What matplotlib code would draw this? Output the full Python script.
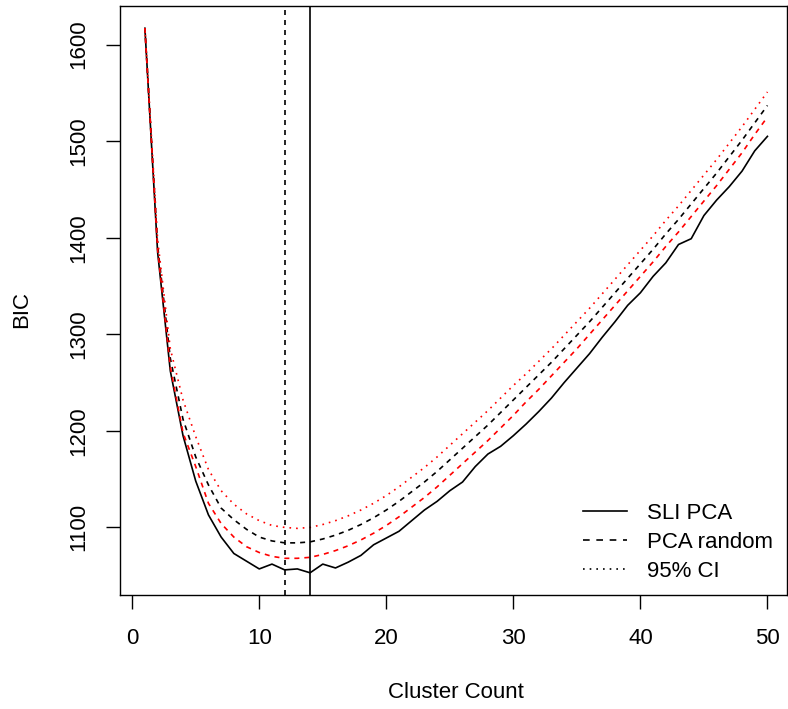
import numpy as np
import matplotlib
matplotlib.use("Agg")
import matplotlib.pyplot as plt
from matplotlib.lines import Line2D

# datos
cluster_count = list(range(1, 51))

sli_pca = [1617, 1385, 1262, 1195, 1148, 1113, 1090, 1073, 1065, 1057,
           1062, 1056, 1057, 1053, 1062, 1058, 1064, 1071, 1082, 1089,
           1096, 1107, 1118, 1127, 1138, 1147, 1163, 1176, 1184, 1195,
           1207, 1220, 1234, 1250, 1265, 1280, 1297, 1313, 1330, 1343,
           1360, 1374, 1393, 1399, 1423, 1439, 1453, 1469, 1490, 1505]

pca_random = [1617, 1392, 1275, 1212, 1173, 1144, 1120, 1108, 1098, 1090,
              1086, 1084, 1084, 1085, 1088, 1092, 1097, 1103, 1110, 1118,
              1127, 1137, 1147, 1158, 1170, 1182, 1194, 1206, 1219, 1232,
              1245, 1258, 1271, 1285, 1299, 1313, 1328, 1343, 1358, 1373,
              1388, 1404, 1419, 1435, 1451, 1467, 1484, 1501, 1519, 1537]

ci_lower = [1617, 1388, 1266, 1198, 1163, 1125, 1104, 1090, 1080, 1074,
            1070, 1068, 1068, 1069, 1072, 1076, 1081, 1087, 1094, 1102,
            1111, 1121, 1131, 1142, 1154, 1166, 1178, 1190, 1203, 1216,
            1230, 1243, 1257, 1271, 1285, 1300, 1315, 1330, 1345, 1360,
            1375, 1391, 1406, 1422, 1438, 1454, 1471, 1488, 1507, 1525]

ci_upper = [1617, 1398, 1285, 1232, 1194, 1160, 1138, 1124, 1114, 1107,
            1102, 1100, 1099, 1100, 1103, 1107, 1112, 1118, 1125, 1133,
            1142, 1152, 1162, 1173, 1185, 1197, 1209, 1221, 1234, 1247,
            1259, 1272, 1285, 1299, 1313, 1327, 1342, 1357, 1372, 1387,
            1402, 1418, 1433, 1449, 1465, 1481, 1498, 1515, 1533, 1551]

legend_labels = ["SLI PCA", "PCA random", "95% CI"]

plt.rcParams['font.family'] = ['Liberation Sans', 'DejaVu Sans']
plt.rcParams['font.size'] = 16

dashed = (0, (3, 3))
dotted = (0, (1, 3))
lw = 1.2

fig = plt.figure(figsize=(7.88, 7.09), dpi=100)
ax = fig.add_axes([119.5 / 788, 1 - 595 / 709, 667 / 788, 589 / 709])

ax.plot(cluster_count, sli_pca, color="black", lw=lw)
ax.plot(cluster_count, pca_random, color="black", lw=lw, linestyle=dashed)
ax.plot(cluster_count, ci_lower, color="red", lw=lw, linestyle=dashed)
ax.plot(cluster_count, ci_upper, color="red", lw=lw, linestyle=dotted)

# lineas verticales en el minimo de cada curva
ax.axvline(cluster_count[int(np.argmin(pca_random))], color="black", lw=lw, linestyle=dashed)
ax.axvline(cluster_count[int(np.argmin(sli_pca))], color="black", lw=lw)

ax.set_xlim(-1.0, 51.5)
ax.set_ylim(1030, 1640)
ax.set_xticks([0, 10, 20, 30, 40, 50])
ax.set_yticks([1100, 1200, 1300, 1400, 1500, 1600])
ax.tick_params(axis="both", direction="out", length=10, width=1, labelsize=16)
ax.tick_params(axis="x", pad=14)
ax.tick_params(axis="y", pad=12)
for lab in ax.get_yticklabels():
    lab.set_rotation(90)
    lab.set_va("center")
for sp in ax.spines.values():
    sp.set_linewidth(1)

fig.text(456 / 788, 1 - 692 / 709, "Cluster Count", ha="center", va="center", fontsize=16)
fig.text(22 / 788, 1 - 310 / 709, "BIC", ha="center", va="center", rotation=90, fontsize=16)

handles = [Line2D([], [], color="black", lw=lw),
           Line2D([], [], color="black", lw=lw, linestyle=(0, (4, 4))),
           Line2D([], [], color="black", lw=lw, linestyle=dotted)]
ax.legend(handles, legend_labels, frameon=False, loc="upper left",
          bbox_to_anchor=(583 / 788, 1 - 503 / 709), bbox_transform=fig.transFigure,
          borderpad=0, borderaxespad=0, handlelength=2.0, handletextpad=0.9,
          labelspacing=0.35, fontsize=16)

fig.savefig("out.png", dpi=100)
